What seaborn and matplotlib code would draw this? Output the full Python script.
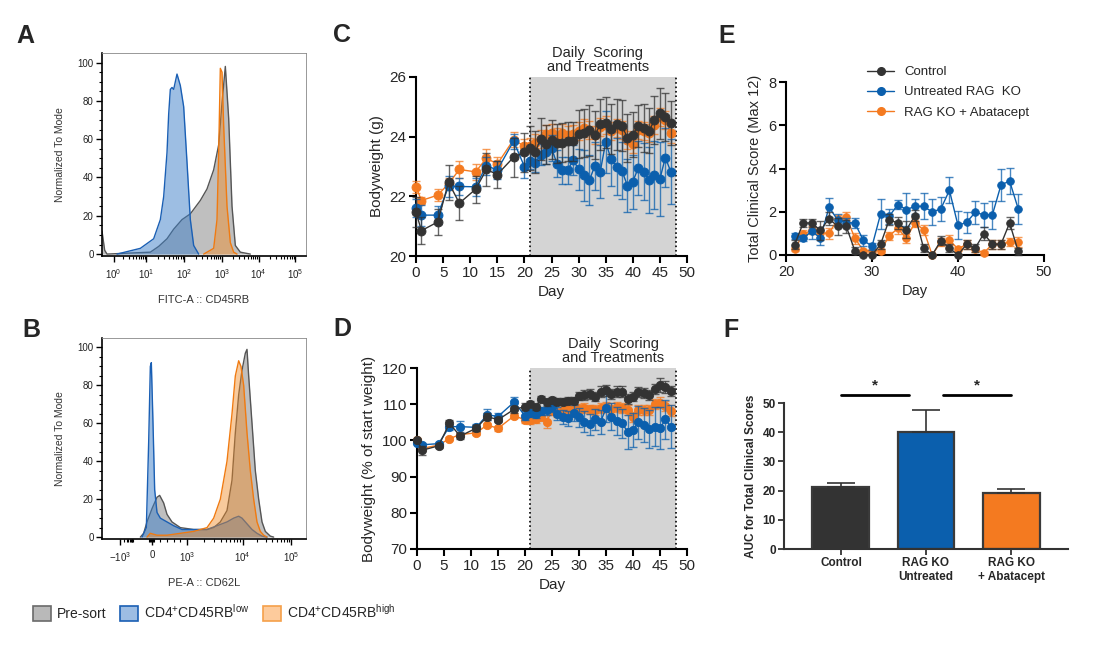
import numpy as np
import pandas as pd
import matplotlib
matplotlib.use('Agg')
import matplotlib.pyplot as plt
import matplotlib.transforms as mtransforms
from matplotlib.patches import Patch
from matplotlib.lines import Line2D
import seaborn as sns

# ---------------- data ----------------
# flow histograms, x in display channels (0-612), y in % of mode
a_gray_x = [0, 8, 15, 145, 170, 195, 215, 240, 265, 295, 315, 335, 350, 360, 370, 380, 390, 400, 415, 445]
a_gray_y = [12, 2, 0, 1, 4, 8, 13, 18, 21, 28, 34, 44, 57, 79, 98, 71, 25, 4.5, 1, 0]
a_blue_x = [45, 115, 155, 175, 185, 195, 200, 205, 210, 215, 225, 235, 245, 255, 265, 275, 290]
a_blue_y = [0, 3, 8, 18, 30, 53, 73, 86, 87, 86, 94, 88, 77, 48, 18, 4.5, 0]
a_orange_x = [305, 335, 345, 350, 355, 360, 365, 375, 385, 395, 405]
a_orange_y = [0, 3, 18, 53, 97, 95, 67, 25, 6, 1, 0]
a_tick_pos = [35, 132, 247, 360, 470, 580]
a_tick_lab = ['$10^{0}$', '$10^{1}$', '$10^{2}$', '$10^{3}$', '$10^{4}$', '$10^{5}$']

b_gray_x = [115, 125, 135, 150, 165, 173, 185, 195, 210, 235, 275, 315, 335, 355, 375, 390, 400, 410, 420, 430, 435, 440, 450, 460, 470, 480, 490, 505, 515]
b_gray_y = [0, 2, 8, 15, 21, 22, 18, 12, 8, 5, 4, 4, 5, 8, 14, 30, 55, 75, 88, 97, 99, 85, 60, 35, 20, 8, 3, 0.5, 0]
b_blue_x = [120, 133, 140, 145, 148, 153, 158, 165, 175, 195, 215, 240, 275, 315, 345, 375, 395, 410, 420, 435, 450, 465, 480, 495]
b_blue_y = [0, 5, 50, 90, 92, 60, 25, 13, 10, 8, 6, 4, 4, 4, 6, 8, 10, 11, 10, 7, 4, 2, 0.5, 0]
b_orange_x = [135, 145, 165, 195, 235, 275, 315, 335, 355, 375, 390, 400, 410, 417, 425, 435, 445, 455, 465, 475, 485, 495]
b_orange_y = [0, 2, 1, 1, 2, 3, 5, 10, 20, 40, 65, 85, 93, 90, 80, 55, 35, 20, 8, 3, 1, 0]
b_tick_pos = [55, 150, 255, 422, 568]
b_tick_lab = ['$-10^{3}$', '0', '$10^{3}$', '$10^{4}$', '$10^{5}$']

groups = ['Control', 'Untreated RAG  KO', 'RAG KO + Abatacept']

days = [0, 1, 4, 6, 8, 11, 13, 15, 18, 20, 21, 22, 23, 24, 25, 26, 27, 28, 29, 30,
        31, 32, 33, 34, 35, 36, 37, 38, 39, 40, 41, 42, 43, 44, 45, 46, 47]

# C: bodyweight (g)
c_ctrl = [21.47, 20.85, 21.14, 22.47, 21.77, 22.24, 22.9, 22.73, 23.31, 23.48, 23.62, 23.48, 23.93, 23.74,
          23.9, 23.78, 23.8, 23.85, 23.85, 24.1, 24.12, 24.21, 24.05, 24.41, 24.47, 24.26, 24.41, 24.37,
          23.96, 24.07, 24.37, 24.28, 24.2, 24.55, 24.78, 24.66, 24.46]
c_ctrl_err = [0.5, 0.45, 0.45, 0.58, 0.58, 0.45, 0.55, 0.45, 0.65, 0.65, 0.75, 0.7, 0.7, 0.65, 0.65, 0.65,
              0.65, 0.65, 0.65, 0.8, 0.8, 0.85, 0.8, 0.85, 0.85, 0.85, 0.85, 0.85, 0.8, 0.75, 0.7, 0.8,
              0.75, 0.8, 0.85, 0.8, 0.75]
c_untr = [21.6, 21.37, 21.37, 22.33, 22.33, 22.32, 23.03, 22.88, 23.85, 23.0, 23.2, 23.12, 23.4, 23.5,
          23.62, 23.1, 22.88, 22.88, 23.22, 22.9, 22.7, 22.55, 23.02, 22.83, 23.82, 23.24, 23.0, 22.86,
          22.36, 22.49, 22.95, 22.83, 22.55, 22.72, 22.58, 23.3, 22.83]
c_untr_err = [0.3, 0.35, 0.3, 0.35, 0.3, 0.3, 0.3, 0.3, 0.25, 0.4, 0.3, 0.3, 0.35, 0.4, 0.45, 0.45, 0.45,
              0.45, 0.5, 0.7, 0.85, 0.85, 0.8, 0.9, 1.05, 0.9, 0.95, 0.95, 0.9, 0.9, 0.9, 0.95, 1.1,
              1.15, 1.25, 1.0, 1.1]
c_abat = [22.32, 21.86, 22.04, 22.42, 22.9, 22.82, 23.28, 23.08, 23.9, 23.68, 23.7, 23.78, 23.92, 24.1,
          24.12, 24.0, 24.12, 24.06, 24.1, 24.2, 24.28, 24.22, 24.06, 24.32, 24.38, 24.2, 24.3, 24.22,
          23.9, 23.75, 24.22, 24.18, 24.12, 24.38, 24.66, 24.56, 24.13]
c_abat_err = [0.2, 0.12, 0.2, 0.2, 0.3, 0.28, 0.3, 0.25, 0.25, 0.25, 0.25, 0.3, 0.3, 0.3, 0.3, 0.3, 0.3,
              0.3, 0.3, 0.3, 0.3, 0.3, 0.3, 0.3, 0.3, 0.3, 0.3, 0.3, 0.3, 0.3, 0.3, 0.3, 0.3, 0.3,
              0.3, 0.3, 0.35]

# D: bodyweight (% of start)
d_ctrl = [100, 97.3, 98.5, 104.7, 101.2, 103.4, 106.6, 105.7, 108.6, 109.3, 110.1, 109.3, 111.4, 110.5,
          111.1, 110.7, 110.7, 111.0, 111.0, 112.3, 112.5, 112.8, 112.1, 113.5, 113.8, 112.8, 113.5,
          113.5, 111.4, 112.1, 113.3, 113.0, 112.6, 114.2, 115.3, 114.7, 113.7]
d_ctrl_err = [0, 1.2, 0.5, 0.8, 0.9, 0.8, 1.0, 0.6, 1.0, 1.0, 0.8, 0.8, 0.8, 0.9, 0.9, 0.9, 0.9, 0.9,
              0.9, 1.2, 1.3, 1.3, 1.3, 1.4, 1.6, 1.4, 1.5, 1.5, 1.3, 1.3, 1.4, 1.4, 1.4, 1.5, 1.8,
              1.6, 1.4]
d_untr = [99.3, 98.8, 99.1, 103.8, 103.8, 103.6, 107.1, 106.6, 110.6, 106.8, 107.6, 107.3, 108.1, 108.5,
          109.3, 107.4, 106.4, 106.1, 107.6, 106.4, 105.2, 104.4, 105.8, 105.1, 108.9, 106.6, 105.4,
          104.7, 102.4, 102.9, 105.0, 104.3, 103.1, 103.8, 103.3, 105.8, 103.8]
d_untr_err = [0, 0.6, 0.5, 0.8, 1.5, 1.0, 1.6, 0.9, 1.5, 1.2, 1.0, 1.0, 1.2, 1.4, 1.5, 1.8, 2.0, 2.0,
              2.2, 2.6, 3.0, 3.0, 3.0, 3.3, 3.8, 3.6, 3.8, 3.9, 4.7, 4.8, 4.6, 4.7, 5.2, 5.4, 5.8,
              5.4, 5.9]
d_abat = [100, 97.8, 98.7, 100.5, 101.6, 102.1, 104.3, 103.3, 106.8, 105.7, 105.5, 105.8, 106.6, 105.2,
          108.2, 107.7, 108.5, 108.8, 108.6, 108.8, 108.9, 108.6, 108.4, 108.9, 109.2, 108.8, 109.2,
          108.9, 108.5, 106.5, 108.4, 108.5, 108.3, 110.1, 110.4, 109.5, 108.2]
d_abat_err = [0, 0.5, 0.5, 0.5, 0.5, 0.6, 0.6, 0.6, 0.7, 0.8, 1.0, 1.0, 1.0, 1.7, 1.2, 1.2, 1.2, 1.3,
              1.3, 1.3, 1.3, 1.3, 1.3, 1.3, 1.3, 1.4, 1.4, 1.4, 1.4, 1.4, 1.4, 1.4, 1.4, 1.4, 1.5,
              1.5, 1.5]

# E: total clinical score, days 21-47
e_days = [21, 22, 23, 24, 25, 26, 27, 28, 29, 30, 31, 32, 33, 34, 35, 36, 37, 38, 39, 40, 41, 42,
          43, 44, 45, 46, 47]
e_ctrl = [0.48, 1.48, 1.48, 1.14, 1.68, 1.33, 1.33, 0.2, 0.0, 0.0, 0.5, 1.63, 1.48, 1.17, 1.82, 0.32,
          0.0, 0.66, 0.32, 0.0, 0.5, 0.32, 0.99, 0.5, 0.5, 1.48, 0.17]
e_ctrl_err = [0.2, 0.2, 0.2, 0.45, 0.3, 0.4, 0.3, 0.15, 0, 0, 0.2, 0.25, 0.3, 0.4, 0.25, 0.2, 0, 0.2,
              0.2, 0, 0.2, 0.2, 0.3, 0.2, 0.2, 0.3, 0.15]
e_untr = [0.89, 0.79, 1.09, 0.79, 2.2, 1.63, 1.5, 1.48, 0.68, 0.4, 1.9, 1.79, 2.33, 2.1, 2.25, 2.25,
          1.99, 2.13, 2.99, 1.37, 1.51, 1.97, 1.86, 1.86, 3.24, 3.42, 2.14]
e_untr_err = [0.15, 0.15, 0.35, 0.35, 0.45, 0.25, 0.2, 0.25, 0.25, 0.15, 0.7, 0.35, 0.2, 0.75, 0.35,
              0.6, 0.6, 0.55, 0.6, 0.65, 0.5, 0.55, 0.55, 0.65, 0.75, 0.6, 0.7]
e_abat = [0.28, 0.95, 1.16, 1.03, 1.0, 1.65, 1.78, 0.78, 0.2, 0.2, 0.2, 0.88, 1.23, 0.77, 1.5, 1.16,
          0.0, 0.6, 0.69, 0.28, 0.5, 0.26, 0.1, 0.5, 0.5, 0.6, 0.6]
e_abat_err = [0.1, 0.2, 0.2, 0.2, 0.25, 0.2, 0.2, 0.25, 0.1, 0.1, 0.1, 0.2, 0.25, 0.2, 0.2, 0.25, 0,
              0.2, 0.25, 0.1, 0.2, 0.1, 0.1, 0.2, 0.2, 0.2, 0.25]

# F: AUC
f_labels = ['Control', 'RAG KO\nUntreated', 'RAG KO\n+ Abatacept']
f_auc = [21.1, 39.9, 19.2]
f_err = [1.6, 7.8, 1.5]

BLACK = '#333333'
BLUE = '#0b5fad'
ORANGE = '#f47a20'
colors = [BLACK, BLUE, ORANGE]

# ---------------- figure ----------------
sns.set_theme(style='ticks')
plt.rcParams['font.family'] = ['Liberation Sans', 'DejaVu Sans']
plt.rcParams['mathtext.fontset'] = 'custom'
plt.rcParams['mathtext.rm'] = 'Liberation Sans'
plt.rcParams['mathtext.it'] = 'Liberation Sans'

W, H = 1118, 647
fig = plt.figure(figsize=(W / 100, H / 100), dpi=100)


def box(l, t, r, b):
    return fig.add_axes([l / W, 1 - b / H, (r - l) / W, (b - t) / H])


def panel_letter(x, y, s):
    fig.text(x / W, 1 - y / H, s, fontsize=18, fontweight='bold', va='baseline', ha='left')


def hist(ax, x, y, face, edge, alpha, z):
    ax.fill_between(x, y, color=face, alpha=alpha, lw=0, zorder=z)
    sns.lineplot(x=x, y=y, ax=ax, color=edge, lw=1.0, sort=False, estimator=None, zorder=z + 0.5)


def flow_axes(ax, xlabel, tick_pos, tick_lab, minor):
    ax.set_xlim(0, 612)
    ax.set_ylim(-1, 105)
    ax.set_yticks([0, 20, 40, 60, 80, 100])
    ax.set_yticks(np.arange(0, 105, 5), minor=True)
    ax.set_xticks(tick_pos)
    ax.set_xticklabels(tick_lab)
    ax.set_xticks(minor, minor=True)
    ax.tick_params(axis='both', labelsize=7, length=4, width=1, color='black', pad=2, labelcolor='#222222')
    ax.tick_params(axis='x', pad=4)
    ax.tick_params(which='minor', length=2, width=0.8, color='black')
    for s in ['left', 'bottom']:
        ax.spines[s].set_linewidth(1.2)
        ax.spines[s].set_color('black')
    for s in ['top', 'right']:
        ax.spines[s].set_linewidth(0.6)
        ax.spines[s].set_color('#888888')
    ax.set_ylabel('Normalized To Mode', fontsize=7.5, color='#333333', labelpad=9)
    ax.set_xlabel(xlabel, fontsize=8, color='#333333', labelpad=10)


# ---- A ----
axA = box(102, 53, 306, 256)
hist(axA, a_gray_x, a_gray_y, '#8c8c8c', '#555555', 0.55, 2)
hist(axA, a_blue_x, a_blue_y, '#3c7fc8', '#1a5fb4', 0.5, 3)
hist(axA, a_orange_x, a_orange_y, '#f08a24', '#f07a10', 0.45, 4)
a_minor = []
for i in range(len(a_tick_pos) - 1):
    for k in range(2, 10):
        a_minor.append(a_tick_pos[i] + np.log10(k) * (a_tick_pos[i + 1] - a_tick_pos[i]))
flow_axes(axA, 'FITC-A :: CD45RB', a_tick_pos, a_tick_lab, a_minor)
panel_letter(16, 43, 'A')

# ---- B ----
axB = box(102, 338, 306, 539)
hist(axB, b_gray_x, b_gray_y, '#8c8c8c', '#555555', 0.55, 2)
hist(axB, b_blue_x, b_blue_y, '#3c7fc8', '#1a5fb4', 0.5, 3)
hist(axB, b_orange_x, b_orange_y, '#f08a24', '#f07a10', 0.45, 4)
b_minor = []
for k in range(2, 10):
    b_minor.append(b_tick_pos[0] + np.log10(k) * 40)
for i in range(2, 4):
    for k in range(2, 10):
        b_minor.append(b_tick_pos[i] + np.log10(k) * (b_tick_pos[i + 1] - b_tick_pos[i]))
b_minor += [140, 143, 146, 153, 157, 175, 195, 215, 235]
flow_axes(axB, 'PE-A :: CD62L', b_tick_pos, b_tick_lab, b_minor)
panel_letter(22, 337, 'B')

# legend for flow panels
handles = [Patch(facecolor='#b9b9b9', edgecolor='#6a6a6a', lw=1.2),
           Patch(facecolor='#9dbde3', edgecolor='#1a5fb4', lw=1.2),
           Patch(facecolor='#fdcb9c', edgecolor='#f5a04a', lw=1.2)]
labels = ['Pre-sort', 'CD4$^{+}$CD45RB$^{low}$', 'CD4$^{+}$CD45RB$^{high}$']
fig.legend(handles, labels, loc='lower left', bbox_to_anchor=(26 / W, 1 - 628 / H), ncol=3,
           frameon=False, fontsize=10, handlelength=1.3, handleheight=1.3, columnspacing=1.0,
           handletextpad=0.4, borderpad=0)


# ---- line panels ----
def series(ax, x, y, err, color, ms, z):
    ax.errorbar(x, y, yerr=err, fmt='none', ecolor=color, elinewidth=1.0, capsize=3, capthick=1.0,
                alpha=0.75, zorder=z, clip_on=False)
    sns.lineplot(x=x, y=y, ax=ax, color=color, lw=1.0, marker='o', markersize=ms,
                 markeredgecolor=color, markeredgewidth=0.6, estimator=None, zorder=z + 0.5, clip_on=False)


def treatment_window(ax, text_x, fs):
    ax.axvspan(21, 48, color='#d4d4d4', lw=0, zorder=0)
    for xv in (21, 48):
        ax.axvline(xv, color='black', lw=1.2, ls=':', zorder=1)
    trans = mtransforms.blended_transform_factory(ax.transData, ax.transAxes)
    ax.text(text_x, 1.015, 'Daily  Scoring\nand Treatments', transform=trans, ha='center', va='bottom',
            fontsize=fs, linespacing=1.05)


def line_axes(ax, fs):
    sns.despine(ax=ax)
    for s in ['left', 'bottom']:
        ax.spines[s].set_linewidth(1.5)
        ax.spines[s].set_color('black')
    ax.tick_params(axis='both', labelsize=fs, length=5, width=1.5, color='black', pad=2)


# C
axC = box(416, 77, 687, 256)
treatment_window(axC, 33.5, 10.5)
for vals, errs, col, z in [(c_abat, c_abat_err, ORANGE, 3), (c_untr, c_untr_err, BLUE, 4),
                           (c_ctrl, c_ctrl_err, BLACK, 5)]:
    series(axC, days, vals, errs, col, 6.5, z)
axC.set_xlim(0, 50)
axC.set_ylim(20, 26)
axC.set_xticks(range(0, 51, 5))
axC.set_yticks([20, 22, 24, 26])
axC.set_xlabel('Day', fontsize=11)
axC.set_ylabel('Bodyweight (g)', fontsize=11)
line_axes(axC, 11)
panel_letter(333, 42, 'C')

# D
axD = box(417, 368, 687, 549)
treatment_window(axD, 36.3, 10.5)
for vals, errs, col, z in [(d_abat, d_abat_err, ORANGE, 3), (d_untr, d_untr_err, BLUE, 4),
                           (d_ctrl, d_ctrl_err, BLACK, 5)]:
    series(axD, days, vals, errs, col, 6, z)
axD.set_xlim(0, 50)
axD.set_ylim(70, 120)
axD.set_xticks(range(0, 51, 5))
axD.set_yticks(range(70, 121, 10))
axD.set_xlabel('Day', fontsize=11)
axD.set_ylabel('Bodyweight (% of start weight)', fontsize=11)
line_axes(axD, 11)
panel_letter(333, 336, 'D')

# E
axE = box(786, 82, 1044, 255)
for vals, errs, col, z in [(e_abat, e_abat_err, ORANGE, 3), (e_untr, e_untr_err, BLUE, 4),
                           (e_ctrl, e_ctrl_err, BLACK, 5)]:
    series(axE, e_days, vals, errs, col, 5.5, z)
axE.set_xlim(20, 50)
axE.set_ylim(0, 8)
axE.set_xticks([20, 30, 40, 50])
axE.set_yticks([0, 2, 4, 6, 8])
axE.set_xlabel('Day', fontsize=10.5)
axE.set_ylabel('Total Clinical Score (Max 12)', fontsize=10.5)
line_axes(axE, 10.5)
leg_handles = [Line2D([], [], color=c, marker='o', markersize=5.5, lw=1) for c in colors]
axE.legend(leg_handles, groups, loc='upper left', bbox_to_anchor=(0.29, 1.13), frameon=False,
           fontsize=9.5, handlelength=2.0, labelspacing=0.6, borderpad=0)
panel_letter(718, 43, 'E')

# F
axF = box(784, 403, 1068, 549)
fdf = pd.DataFrame({'group': f_labels, 'auc': f_auc})
sns.barplot(data=fdf, x='group', y='auc', hue='group', palette=colors, legend=False, ax=axF,
            width=0.67, edgecolor='#3a3a3a', linewidth=1.6, saturation=1)
axF.errorbar(range(3), f_auc, yerr=[[0, 0, 0], f_err], fmt='none', ecolor='#333333', elinewidth=1.2,
             capsize=10, capthick=1.2, zorder=1)
axF.set_xlim(-0.67, 2.67)
axF.set_ylim(0, 50)
axF.set_yticks(range(0, 51, 10))
axF.set_xlabel('')
axF.set_ylabel('AUC for Total Clinical Scores', fontsize=8.5, fontweight='bold')
sns.despine(ax=axF)
for s in ['left', 'bottom']:
    axF.spines[s].set_linewidth(1.5)
    axF.spines[s].set_color('#333333')
axF.tick_params(axis='both', labelsize=8.5, length=4, width=1.3, color='#333333', pad=2)
for lab in axF.get_xticklabels() + axF.get_yticklabels():
    lab.set_fontweight('bold')
for x0, x1 in [(0.0, 0.8), (1.2, 2.0)]:
    axF.plot([x0, x1], [52.8, 52.8], color='black', lw=2, clip_on=False)
    axF.text((x0 + x1) / 2, 53.5, '*', ha='center', va='bottom', fontsize=11, fontweight='bold')
panel_letter(723, 337, 'F')

fig.savefig('out.png', dpi=100)
